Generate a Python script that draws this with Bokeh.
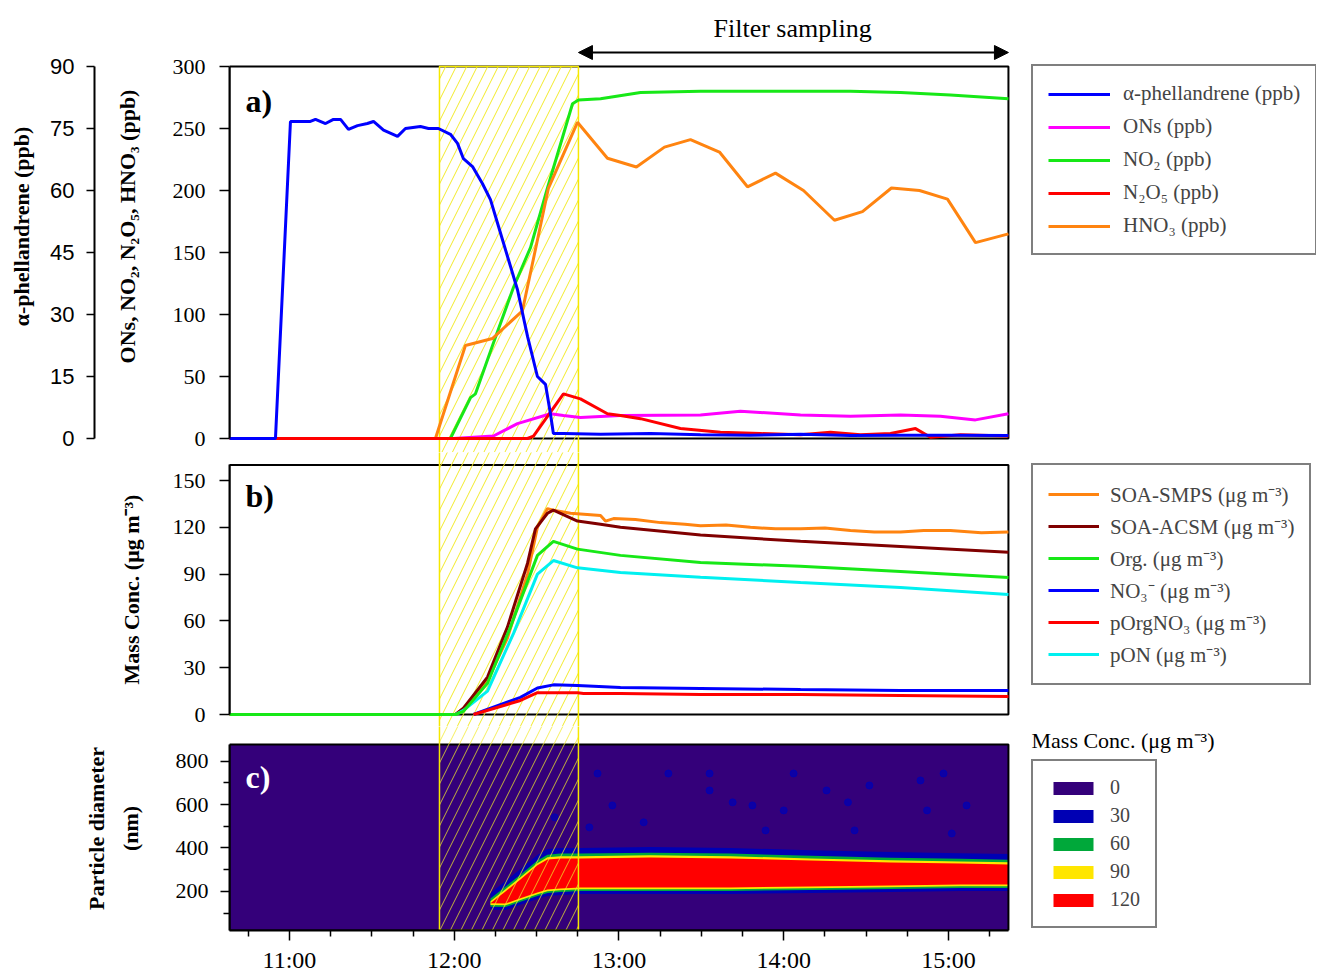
import numpy as np
from bokeh.plotting import figure
from bokeh.layouts import column
from bokeh.models import (Range1d, LinearAxis, FixedTicker, Label, Arrow, NormalHead,
                          Legend, LegendItem)
from bokeh.embed import file_html
from bokeh.resources import INLINE

# ------------------------------------------------------------------ data
# time in decimal hours (clock time)
# panel a (ppb)
alpha_t = [10.636, 10.915, 11.006, 11.127, 11.158, 11.219, 11.267, 11.310, 11.358, 11.413,
           11.473, 11.510, 11.571, 11.656, 11.704, 11.795, 11.844, 11.904, 11.977, 12.020,
           12.056, 12.111, 12.171, 12.220, 12.269, 12.329, 12.384, 12.445, 12.505, 12.554,
           12.584, 12.602, 12.663, 12.888, 13.191, 13.495, 13.798, 14.102, 14.405, 14.709,
           15.012, 15.364]
alpha_v = [0, 0, 76.7, 76.7, 77.2, 76.2, 77.2, 77.2, 74.8, 75.7,
           76.2, 76.7, 74.6, 73.1, 75.0, 75.5, 75.0, 75.0, 73.6, 71.4,
           67.7, 65.8, 61.7, 57.8, 51.3, 43.3, 36.0, 24.7, 15.0, 13.1,
           6.0, 1.2, 1.2, 1.0, 1.2, 0.9, 0.8, 1.0, 0.7, 0.8,
           0.8, 0.7]

hno3_t = [10.636, 11.886, 12.068, 12.232, 12.414, 12.572, 12.748, 12.930, 13.106, 13.276,
          13.434, 13.610, 13.780, 13.950, 14.120, 14.308, 14.478, 14.654, 14.824, 14.994,
          15.164, 15.364]
hno3_v = [0, 0, 75, 80.6, 103, 202, 255, 226, 219, 235,
          241, 231, 203, 214, 200, 176, 183, 202, 200, 193,
          158, 165]

no2_t = [10.636, 11.977, 12.099, 12.129, 12.238, 12.360, 12.463, 12.566, 12.718, 12.754,
         12.888, 13.131, 13.495, 14.102, 14.405, 14.709, 15.012, 15.364]
no2_v = [0, 0, 33, 36, 77, 122, 154, 202, 270, 273,
         274, 279, 280, 280, 280, 279, 277, 274]

ons_t = [10.636, 11.995, 12.238, 12.384, 12.584, 12.663, 12.766, 13.009, 13.495, 13.737,
         14.102, 14.405, 14.709, 14.951, 15.164, 15.364]
ons_v = [0, 0, 2, 12, 20, 18.5, 17, 18.5, 19, 22,
         19, 18, 19, 18, 15, 20]

n2o5_t = [10.636, 12.445, 12.481, 12.663, 12.766, 12.930, 13.009, 13.131, 13.373, 13.616,
          13.859, 14.102, 14.284, 14.466, 14.648, 14.800, 14.891, 15.073, 15.364]
n2o5_v = [0, 0, 2, 36, 32, 20, 18.5, 16, 8, 5,
          4, 3, 5, 3, 4, 8, 1, 3, 2]

# panel b (ug m-3)
smps_t = [10.636, 12.008, 12.056, 12.202, 12.323, 12.445, 12.505, 12.566, 12.602, 12.706,
          12.888, 12.918, 12.967, 13.100, 13.252, 13.400, 13.495, 13.650, 13.798, 13.950,
          14.102, 14.250, 14.405, 14.550, 14.709, 14.850, 15.012, 15.200, 15.364]
smps_v = [0, 0, 3.8, 21.8, 49, 90, 120, 132, 131, 129,
          127.5, 124, 125.6, 125, 123, 122, 121, 121.5, 120, 119,
          119, 119.5, 118, 117, 117, 118, 118, 116.5, 117]

acsm_t = [10.636, 12.008, 12.056, 12.202, 12.323, 12.445, 12.493, 12.566, 12.602, 12.748,
          12.888, 13.009, 13.495, 14.102, 14.709, 15.364]
acsm_v = [0, 0, 4, 24, 56, 97, 119, 129, 131, 124,
          122, 120, 115, 111, 107.7, 104]

org_t = [10.636, 12.008, 12.056, 12.202, 12.341, 12.505, 12.602, 12.748, 13.009, 13.495,
         14.102, 14.709, 15.364]
org_v = [0, 0, 2, 20, 56, 102, 111, 106, 102, 97.4,
         95, 91.7, 87.8]

pon_t = [12.008, 12.056, 12.202, 12.360, 12.505, 12.602, 12.748, 13.009, 13.495, 14.102,
         14.709, 15.364]
pon_v = [0, 2.6, 15, 52, 90, 98.7, 94, 91, 88, 84.6,
         81.4, 77]

no3_t = [12.117, 12.402, 12.505, 12.602, 12.748, 13.009, 13.495, 14.102, 14.709, 15.364]
no3_v = [0, 11, 17, 19, 18.6, 17.3, 16.7, 16, 15.4, 15.4]

porg_t = [12.117, 12.402, 12.505, 12.748, 12.785, 13.009, 13.495, 14.102, 14.709, 15.364]
porg_v = [0, 9, 14, 14, 13.5, 13.5, 12.8, 12.8, 12.2, 11.5]

# panel c: edges (nm) of the >120 ug m-3 core of the size distribution
psd_t = [12.220, 12.311, 12.402, 12.505, 12.566, 12.645, 12.766, 13.191, 13.677, 14.162,
         14.648, 15.073, 15.364]
psd_low = [145, 144, 168, 195, 209, 213, 218, 218, 218, 223, 227, 232, 232]
psd_high = [145, 200, 255, 320, 347, 352, 352, 356, 352, 342, 333, 328, 324]
# weak (~30 ug m-3) spots above the mode
speck_t = [12.87, 13.30, 13.55, 14.06, 14.97, 14.52, 14.83, 13.55, 14.26, 12.96,
           13.69, 13.81, 14.00, 14.39, 14.87, 15.11, 12.61, 12.82, 13.15, 13.89,
           14.43, 15.02]
speck_d = [743, 743, 743, 743, 743, 688, 711, 665, 665, 596,
           610, 596, 573, 610, 573, 596, 541, 495, 518, 481,
           481, 467]
level_labels = ["0", "30", "60", "90", "120"]

tick_hours = [11, 12, 13, 14, 15]
tick_labels = ["11:00", "12:00", "13:00", "14:00", "15:00"]
quarter_hours = [10.75, 11.25, 11.5, 11.75, 12.25, 12.5, 12.75, 13.25, 13.5, 13.75,
                 14.25, 14.5, 14.75, 15.25]

T0, T1 = 10.636, 15.364          # time span of the panels
HATCH_T0, HATCH_T1 = 11.9105, 12.754
FILTER_T0 = 12.754

# ------------------------------------------------------------------ layout constants
SERIF = "Liberation Serif"
SANS = "Liberation Sans"
FIG_W = 1316
LEFT = 229
PX_H = 164.75
X_END = T0 + (FIG_W - LEFT) / PX_H
xr = Range1d(T0, X_END)

C_BLUE, C_MAG, C_GRN, C_RED, C_ORG = "#0000ff", "#ff00ff", "#17e817", "#ff0000", "#ff8410"
C_BRN, C_CYN = "#800000", "#00f0f0"
HEAT = ["#34007a", "#0000b4", "#00a83a", "#ffe600", "#ff0000"]
HATCH_COL = "#f2ea2a"
HATCH_SCALE = 21

AB, BC = 452, 726     # boundaries between the stacked figures (page px)


def make_fig(height, yr, bottom=0):
    p = figure(width=FIG_W, height=height, x_range=xr, y_range=yr,
               output_backend="svg", toolbar_location=None,
               min_border_left=LEFT, min_border_right=0, min_border_top=0,
               min_border_bottom=bottom, outline_line_color=None,
               background_fill_color="white", border_fill_color="white")
    p.grid.visible = False
    return p


def style_y(ax, label, ticks, bounds, font=SERIF, size="22px", out=10, standoff=14,
            lstandoff=30, minor=None):
    ax.axis_label = label
    ax.ticker = FixedTicker(ticks=ticks, minor_ticks=minor or [])
    ax.bounds = bounds
    ax.axis_line_width = 2
    ax.major_tick_line_width = 1.5
    ax.major_tick_out = out
    ax.major_tick_in = 0
    ax.minor_tick_out = 6
    ax.minor_tick_in = 0
    ax.minor_tick_line_width = 1.5
    ax.major_label_text_font = font
    ax.major_label_text_font_size = size
    ax.major_label_text_color = "black"
    ax.major_label_standoff = standoff
    ax.axis_label_text_font = SERIF
    ax.axis_label_text_font_style = "bold"
    ax.axis_label_text_font_size = "22px"
    ax.axis_label_text_color = "black"
    ax.axis_label_standoff = lstandoff


def legend(items, loc, gw, lh, gh, spacing, standoff, size="21px"):
    lg = Legend(items=items, location=loc, margin=0, padding=15, spacing=spacing,
                label_height=lh, glyph_height=gh, glyph_width=gw, label_standoff=standoff,
                label_text_font=SERIF, label_text_font_size=size,
                border_line_color="black", border_line_width=2,
                background_fill_alpha=1.0)
    return lg


# ------------------------------------------------------------------ panel a
A_PX = 372 / 300.0   # px per ppb (0 at y=438, 300 at y=66)
ya = Range1d(-(AB - 438) / A_PX, 438 / A_PX)
pa = make_fig(AB, ya)
pa.xaxis.visible = False
pa.extra_y_ranges = {"alpha": Range1d(ya.start * 0.3, ya.end * 0.3)}

style_y(pa.yaxis[0], "ONs, NO\u2082, N\u2082O\u2085, HNO\u2083 (ppb)",
        [0, 50, 100, 150, 200, 250, 300], (0, 300), lstandoff=30)
# invisible spacer axis that separates the two left axes
spacer = LinearAxis(ticker=FixedTicker(ticks=[]), axis_line_color=None, major_tick_out=0,
                    major_tick_in=0, major_tick_line_color=None, minor_tick_line_color=None,
                    major_label_standoff=0, axis_label="\u00a0", axis_label_standoff=0,
                    axis_label_text_font_size="12px", axis_label_text_alpha=0)
pa.add_layout(spacer, "left")
ax_alpha = LinearAxis(y_range_name="alpha")
style_y(ax_alpha, "\u03b1-phellandrene (ppb)", [0, 15, 30, 45, 60, 75, 90], (0, 90),
        font=SANS, size="22px", out=8, standoff=12, lstandoff=13)
pa.add_layout(ax_alpha, "left")

pa.quad(left=T0, right=T1, bottom=0, top=300, fill_color=None, line_color="black",
        line_width=2)
pa.quad(left=HATCH_T0, right=HATCH_T1, bottom=-60, top=300, fill_color=None,
        line_color="#f5e800", line_width=1.5, hatch_pattern="/", hatch_color=HATCH_COL,
        hatch_scale=HATCH_SCALE, hatch_weight=1)
r_no2 = pa.line(no2_t, no2_v, color=C_GRN, line_width=3)
r_hno3 = pa.line(hno3_t, hno3_v, color=C_ORG, line_width=3)
r_ons = pa.line(ons_t, ons_v, color=C_MAG, line_width=3)
r_n2o5 = pa.line(n2o5_t, n2o5_v, color=C_RED, line_width=3)
r_alpha = pa.line(alpha_t, alpha_v, color=C_BLUE, line_width=3, y_range_name="alpha")

pa.add_layout(Arrow(x_start=FILTER_T0, x_end=T1, y_start=(438 - 52) / A_PX,
                    y_end=(438 - 52) / A_PX, line_width=2, line_color="black",
                    start=NormalHead(size=14, fill_color="black", line_color="black"),
                    end=NormalHead(size=14, fill_color="black", line_color="black")))
pa.add_layout(Label(x=14.054, y=(438 - 28) / A_PX, text="Filter sampling", text_font=SERIF,
                    text_font_size="26px", text_align="center", text_baseline="middle",
                    text_color="black"))
pa.add_layout(Label(x=T0 + 16 / PX_H, y=(438 - 100) / A_PX, text="a)", text_font=SERIF,
                    text_font_size="32px", text_font_style="bold", text_baseline="middle",
                    text_color="black"))
pa.add_layout(legend([
    LegendItem(label="\u03b1-phellandrene (ppb)", renderers=[r_alpha]),
    LegendItem(label="ONs (ppb)", renderers=[r_ons]),
    LegendItem(label="NO\u2082 (ppb)", renderers=[r_no2]),
    LegendItem(label="N\u2082O\u2085 (ppb)", renderers=[r_n2o5]),
    LegendItem(label="HNO\u2083 (ppb)", renderers=[r_hno3]),
], (802, AB - 66 - 189), 62, 25, 20, 8, 13))

# ------------------------------------------------------------------ panel b
B_PX = 1.56          # px per ug m-3 (0 at y=714)
yb = Range1d(-(BC - 714) / B_PX, (714 - AB) / B_PX)
pb = make_fig(BC - AB, yb)
pb.xaxis.visible = False
style_y(pb.yaxis[0], "Mass Conc. (\u03bcg m\u207b\u00b3)", [0, 30, 60, 90, 120, 150], (0, 160),
        lstandoff=26)
pb.quad(left=T0, right=T1, bottom=0, top=160, fill_color=None, line_color="black",
        line_width=2)
pb.quad(left=HATCH_T0, right=HATCH_T1, bottom=-60, top=600, fill_color=None,
        line_color="#f5e800", line_width=1.5, hatch_pattern="/", hatch_color=HATCH_COL,
        hatch_scale=HATCH_SCALE, hatch_weight=1)
r_smps = pb.line(smps_t, smps_v, color=C_ORG, line_width=3)
r_acsm = pb.line(acsm_t, acsm_v, color=C_BRN, line_width=3)
r_pon = pb.line(pon_t, pon_v, color=C_CYN, line_width=3)
r_org = pb.line(org_t, org_v, color=C_GRN, line_width=3)
r_no3 = pb.line(no3_t, no3_v, color=C_BLUE, line_width=3)
r_porg = pb.line(porg_t, porg_v, color=C_RED, line_width=3)
pb.add_layout(Label(x=T0 + 16 / PX_H, y=(714 - 495) / B_PX, text="b)", text_font=SERIF,
                    text_font_size="32px", text_font_style="bold", text_baseline="middle",
                    text_color="black"))
pb.add_layout(legend([
    LegendItem(label="SOA-SMPS (\u03bcg m\u207b\u00b3)", renderers=[r_smps]),
    LegendItem(label="SOA-ACSM (\u03bcg m\u207b\u00b3)", renderers=[r_acsm]),
    LegendItem(label="Org. (\u03bcg m\u207b\u00b3)", renderers=[r_org]),
    LegendItem(label="NO\u2083\u207b (\u03bcg m\u207b\u00b3)", renderers=[r_no3]),
    LegendItem(label="pOrgNO\u2083 (\u03bcg m\u207b\u00b3)", renderers=[r_porg]),
    LegendItem(label="pON (\u03bcg m\u207b\u00b3)", renderers=[r_pon]),
], (802, BC - 466 - 219), 51, 25, 20, 4, 11))

# ------------------------------------------------------------------ panel c
C_PX = 130.3 / 600.0   # px per nm (20 nm at y=930)
C_MIN, C_MAX = 20, 877
C_BOTTOM = 46
yc = Range1d(C_MIN, C_MIN + (930 - BC) / C_PX)
pc = make_fig(930 - BC + C_BOTTOM, yc, bottom=C_BOTTOM)
style_y(pc.yaxis[0], "Particle diameter\n(nm)", [200, 400, 600, 800], (C_MIN, C_MAX),
        out=9, standoff=12, lstandoff=30, minor=[100, 300, 500, 700])
pc.yaxis[0].axis_label_text_line_height = 1.35

ax_x = pc.xaxis[0]
ax_x.ticker = FixedTicker(ticks=tick_hours, minor_ticks=quarter_hours)
ax_x.major_label_overrides = dict(zip(tick_hours, tick_labels))
ax_x.bounds = (T0, T1)
ax_x.axis_line_width = 2
ax_x.major_tick_out = 10
ax_x.major_tick_in = 0
ax_x.major_tick_line_width = 1.5
ax_x.minor_tick_out = 6
ax_x.minor_tick_in = 0
ax_x.minor_tick_line_width = 1.5
ax_x.major_label_standoff = 6
ax_x.major_label_text_font = SERIF
ax_x.major_label_text_font_size = "24px"
ax_x.major_label_text_color = "black"

low = np.array(psd_low, dtype=float)
high = np.array(psd_high, dtype=float)
r_l0 = pc.quad(left=T0, right=T1, bottom=C_MIN, top=C_MAX, fill_color=HEAT[0], line_color=None)
pc.scatter(speck_t, speck_d, size=7, color=HEAT[1], alpha=0.75)
r_l1 = pc.varea(x=psd_t, y1=low - 30, y2=high + 48, fill_color=HEAT[1])
r_l2 = pc.varea(x=psd_t, y1=low - 16, y2=high + 22, fill_color=HEAT[2])
r_l3 = pc.varea(x=psd_t, y1=low - 8, y2=high + 10, fill_color=HEAT[3])
r_l4 = pc.varea(x=psd_t, y1=low, y2=high, fill_color=HEAT[4])
pc.quad(left=T0, right=T1, bottom=C_MIN, top=C_MAX, fill_color=None, line_color="black",
        line_width=2)
pc.quad(left=HATCH_T0, right=HATCH_T1, bottom=C_MIN, top=5000, fill_color=None,
        line_color="#f5e800", line_width=1.5, hatch_pattern="/", hatch_color=HATCH_COL,
        hatch_scale=HATCH_SCALE, hatch_weight=1, hatch_alpha=0.75)
pc.add_layout(Label(x=T0 + 16 / PX_H, y=C_MIN + (930 - 776) / C_PX, text="c)", text_font=SERIF,
                    text_font_size="32px", text_font_style="bold", text_baseline="middle",
                    text_color="white"))
pc.add_layout(Label(x=T0 + (1031 - 229) / PX_H, y=C_MIN + (930 - 740) / C_PX,
                    text="Mass Conc. (\u03bcg m\u207b\u00b3)", text_font=SERIF,
                    text_font_size="22px", text_baseline="middle", text_color="black"))
pc.add_layout(legend([
    LegendItem(label=level_labels[0], renderers=[r_l0]),
    LegendItem(label=level_labels[1], renderers=[r_l1]),
    LegendItem(label=level_labels[2], renderers=[r_l2]),
    LegendItem(label=level_labels[3], renderers=[r_l3]),
    LegendItem(label=level_labels[4], renderers=[r_l4]),
], (802, 2), 50, 22, 16, 5, 12, size="20px"))

layout = column(pa, pb, pc, spacing=0)
open("out.html", "w").write(file_html(layout, INLINE))
